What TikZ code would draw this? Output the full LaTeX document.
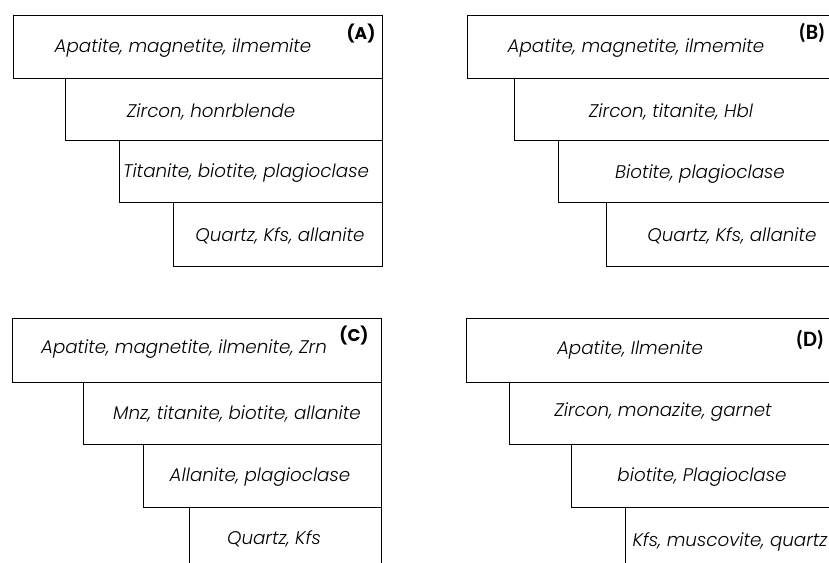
\documentclass[tikz,border=0pt]{standalone}
\usepackage{fontspec}
\setmainfont{Poppins}[ItalicFont={Poppins Light Italic}]
\newfontfamily\calfont{Carlito}
\usepackage{tikz}

\begin{document}
\begin{tikzpicture}[x=1pt,y=-1pt,
  layer/.style={draw,line width=0.8pt,rectangle,anchor=north west,inner sep=0pt},
  mineral/.style={font=\itshape\fontsize{18.3}{20}\selectfont,inner sep=0pt,yshift=-2pt},
  tag/.style={font=\bfseries\fontsize{17}{19}\selectfont,inner sep=0pt},
  tagcal/.style={font=\calfont\bfseries\fontsize{22}{24}\selectfont,inner sep=0pt}]
\useasboundingbox (0,0) rectangle (829,562);
\clip (0,0) rectangle (829,562);
% name/left/top/bottom/right/text x/text y/text
\foreach \n/\l/\t/\b/\r/\x/\y/\1 in %
{a1/13/15/78/382/183/46/{Apatite, magnetite, ilmemite},
 a2/65/78/140/382/211/110/{Zircon, honrblende},
 a3/119/140/202/382/246/171/{Titanite, biotite, plagioclase},
 a4/173/202/266/382/280/234/{Quartz, Kfs, allanite},
 b1/467/15/78/840/636/46/{Apatite, magnetite, ilmemite},
 b2/514/78/140/840/671/110/{Zircon, titanite, Hbl},
 b3/558/140/202/840/700/172/{Biotite, plagioclase},
 b4/606/202/266/840/732/234/{Quartz, Kfs, allanite},
 c1/12/318/382/381/184/347/{Apatite, magnetite, ilmenite, Zrn},
 c2/83/382/444/381/237/412/{Mnz, titanite, biotite, allanite},
 c3/143/444/507/381/260/475/{Allanite, plagioclase},
 c4/189/507/580/381/274/537/{Quartz, Kfs},
 d1/466/318/382/840/630/348/{Apatite, Ilmenite},
 d2/509/382/444/840/663/410/{Zircon, monazite, garnet},
 d3/571/444/507/840/702/475/{biotite, Plagioclase},
 d4/625/507/580/840/730/540/{Kfs, muscovite, quartz}} {
   \node[layer,minimum width={\r pt-\l pt},minimum height={\b pt-\t pt}] (\n) at (\l,\t) {};
   \node[mineral] (\n txt) at (\x,\y) {\1};
}
% panel tags
\node[tag] (tagA) at (361,34) {(A)};
\node[tagcal] (tagB) at (812,33) {(B)};
\node[tag] (tagC) at (354,336) {(C)};
\node[tagcal] (tagD) at (810,340) {(D)};
\end{tikzpicture}
\end{document}
